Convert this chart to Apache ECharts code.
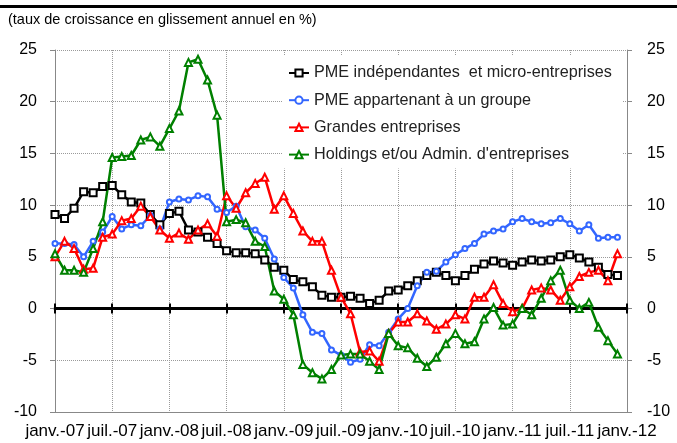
<!DOCTYPE html>
<html>
<head>
<meta charset="utf-8">
<script src="https://cdn.jsdelivr.net/npm/echarts@6/dist/echarts.min.js"></script>
<style>
html,body{margin:0;padding:0;background:#fff;}
#c{width:677px;height:443px;}
</style>
</head>
<body>
<div id="c"></div>
<script>
// Months janv.-07 .. janv.-12 (61 categories), data Jan 2007 .. Dec 2011
var monthNames = ['janv.','févr.','mars','avr.','mai','juin','juil.','août','sept.','oct.','nov.','déc.'];
var years = ['07','08','09','10','11','12'];
var categories = [];
for (var y = 0; y < years.length; y++) {
  for (var m = 0; m < 12; m++) {
    if (y === years.length - 1 && m > 0) break;
    categories.push(monthNames[m] + '-' + years[y]);
  }
}

var seriesNames = [
  'PME indépendantes  et micro-entreprises',
  'PME appartenant à un groupe',
  'Grandes entreprises',
  "Holdings et/ou Admin. d'entreprises"
];

var pmeIndep = [
  9.1, 8.7, 9.7, 11.3, 11.2, 11.8, 11.9, 11.0, 10.3, 10.2,
  9.1, 8.1, 9.2, 9.4, 7.6, 7.4, 6.9, 6.3, 5.6, 5.4,
  5.4, 5.3, 4.7, 4.0, 3.7, 2.8, 2.6, 2.1, 1.3, 1.1,
  1.1, 1.2, 1.0, 0.5, 0.8, 1.7, 1.8, 2.2, 2.7, 3.2,
  3.5, 3.2, 2.7, 3.2, 3.8, 4.3, 4.6, 4.4, 4.2, 4.5,
  4.7, 4.6, 4.7, 5.0, 5.2, 4.9, 4.5, 4.0, 3.3, 3.2
];
var pmeGroupe = [
  6.3, 6.3, 6.2, 5.0, 6.5, 7.4, 8.9, 7.7, 8.1, 8.0,
  9.0, 7.7, 10.3, 10.6, 10.5, 10.9, 10.8, 9.6, 9.3, 9.9,
  7.9, 7.6, 6.8, 4.8, 3.0, 2.0, -0.6, -2.3, -2.4, -4.0,
  -4.5, -5.2, -4.9, -3.5, -3.6, -2.3, -1.0, 0.0, 2.2, 3.5,
  3.6, 4.5, 5.2, 5.8, 6.3, 7.2, 7.5, 7.7, 8.4, 8.7,
  8.4, 8.2, 8.3, 8.7, 8.2, 7.5, 8.1, 6.8, 6.9, 6.9
];
var grandes = [
  5.0, 6.5, 5.8, 3.8, 3.9, 6.9, 7.2, 8.5, 8.7, 9.9,
  8.9, 7.6, 6.8, 7.3, 6.7, 7.6, 8.2, 7.0, 10.9, 9.7,
  11.2, 12.1, 12.7, 9.6, 10.9, 9.2, 7.5, 6.5, 6.5, 3.7,
  1.1, -0.5, -4.2, -4.1, -5.1, -2.4, -1.3, -1.3, -0.5, -1.2,
  -2.0, -1.5, -0.6, -1.0, 1.1, 1.1, 2.3, 0.5, -0.3, 0.0,
  1.8, 2.0, 1.8, 0.8, 2.1, 3.1, 3.5, 3.7, 2.7, 5.3
];
var holdings = [
  5.3, 3.7, 3.7, 3.5, 5.8, 8.4, 14.6, 14.7, 14.8, 16.3,
  16.6, 15.7, 17.4, 19.1, 23.8, 24.1, 22.1, 18.7, 8.4, 8.6,
  8.3, 6.5, 6.0, 1.7, 0.9, -0.6, -5.4, -6.2, -6.8, -5.9,
  -4.5, -4.4, -4.4, -5.1, -5.9, -2.4, -3.6, -3.8, -4.8, -5.6,
  -4.7, -3.4, -2.4, -3.4, -3.2, -1.0, 0.1, -1.6, -1.5, 0.0,
  -0.6, 1.0, 2.7, 3.7, 0.8, 0.0, 0.6, -1.8, -3.1, -4.4
];

var subtitle = '(taux de croissance en glissement annuel en %)';
var FONT = '"Liberation Sans", Arial, sans-serif';
var gridColor = '#9a9a9a';

var chart = echarts.init(document.getElementById('c'), null, {renderer: 'canvas'});

function mkSeries(name, data, color, symbol, size) {
  return {
    name: name,
    type: 'line',
    data: data,
    xAxisIndex: 0,
    yAxisIndex: 0,
    symbol: symbol,
    symbolSize: size,
    showAllSymbol: true,
    lineStyle: {color: color, width: 2.5},
    itemStyle: {color: color, borderColor: color, borderWidth: 1},
    emphasis: {disabled: true},
    animation: false
  };
}

chart.setOption({
  animation: false,
  backgroundColor: '#fff',
  textStyle: {fontFamily: FONT},
  graphic: [
    {type: 'rect', left: 0, top: 5, shape: {width: 677, height: 3}, style: {fill: '#000'}},
    {type: 'text', left: 8, top: 12, style: {text: subtitle, fill: '#000', font: '14.5px ' + FONT}}
  ],
  grid: {left: 55, right: 50, top: 50, bottom: 31, containLabel: false},
  legend: {
    orient: 'vertical',
    left: 282,
    top: 56,
    padding: [9, 11, 6, 6],
    backgroundColor: '#fff',
    itemGap: 11.2,
    itemWidth: 20,
    itemHeight: 9,
    textStyle: {fontSize: 16.2, color: '#222', fontFamily: FONT},
    data: seriesNames
  },
  xAxis: [
    {
      type: 'category',
      data: categories,
      boundaryGap: false,
      position: 'bottom',
      axisLine: {onZero: false, lineStyle: {color: '#888', width: 1}},
      axisTick: {show: false},
      axisLabel: {interval: 5, fontSize: 17, color: '#000', margin: 11, fontFamily: FONT},
      splitLine: {show: true, interval: 5, lineStyle: {color: gridColor, type: 'dotted', width: 1}}
    },
    {
      type: 'category',
      data: categories,
      boundaryGap: false,
      position: 'top',
      axisLine: {show: true, onZero: true, onZeroAxisIndex: 0, lineStyle: {color: '#000', width: 3}},
      axisTick: {show: true, interval: 5, length: 5, lineStyle: {color: '#000', width: 2}},
      axisLabel: {show: false},
      splitLine: {show: false}
    },
    {
      type: 'category',
      data: categories,
      boundaryGap: false,
      position: 'top',
      axisLine: {show: false, onZero: true, onZeroAxisIndex: 0},
      axisTick: {show: true, inside: true, interval: 5, length: 5, lineStyle: {color: '#000', width: 2}},
      axisLabel: {show: false},
      splitLine: {show: false}
    }
  ],
  yAxis: [
    {
      type: 'value',
      position: 'left',
      min: -10, max: 25, interval: 5,
      axisLine: {show: true, lineStyle: {color: '#888'}},
      axisTick: {show: true, length: 5, lineStyle: {color: '#888'}},
      axisLabel: {fontSize: 16, color: '#000', margin: 18, fontFamily: FONT},
      splitLine: {show: true, lineStyle: {color: gridColor, type: 'dotted', width: 1}}
    },
    {
      type: 'value',
      position: 'right',
      min: -10, max: 25, interval: 5,
      axisLine: {show: true, lineStyle: {color: '#888'}},
      axisTick: {show: true, length: 5, lineStyle: {color: '#888'}},
      axisLabel: {fontSize: 16, color: '#000', margin: 20, fontFamily: FONT},
      splitLine: {show: false}
    }
  ],
  series: [
    mkSeries(seriesNames[0], pmeIndep, '#000000', 'emptyRect', 7),
    mkSeries(seriesNames[1], pmeGroupe, '#3366ff', 'emptyCircle', 5),
    mkSeries(seriesNames[2], grandes, '#ff0000', 'emptyTriangle', 7),
    mkSeries(seriesNames[3], holdings, '#008000', 'emptyTriangle', 7)
  ]
});
</script>
</body>
</html>
